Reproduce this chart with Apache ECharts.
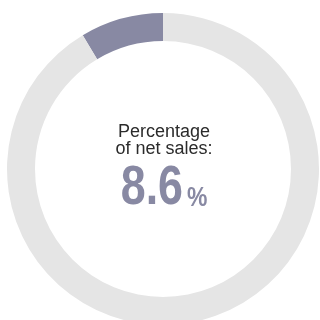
<!DOCTYPE html>
<html>
<head>
<meta charset="utf-8">
<script src="https://cdn.jsdelivr.net/npm/echarts@6/dist/echarts.min.js"></script>
<style>
  html, body { margin: 0; padding: 0; background: #fff; }
  #chart { width: 320px; height: 320px; }
</style>
</head>
<body>
<div id="chart"></div>
<script>
// share of net sales, rest of the ring
const names = ["Percentage of net sales", "Other"];
const values = [8.6, 91.4];
const colors = ["#8889a3", "#e5e5e5"];

const chart = echarts.init(document.getElementById("chart"));

const option = {
  animation: false,
  series: [
    {
      type: "pie",
      center: [163, 169],
      radius: [128, 156],
      startAngle: 90,
      clockwise: false,
      silent: true,
      label: { show: false },
      labelLine: { show: false },
      data: names.map((n, i) => ({
        name: n,
        value: values[i],
        itemStyle: { color: colors[i] },
      })),
    },
  ],
  graphic: [
    {
      type: "text",
      x: 164,
      y: 124,
      style: {
        text: "Percentage\nof net sales:",
        font: "18px 'Liberation Sans', Arial, sans-serif",
        fill: "#2b2b2b",
        align: "center",
        lineHeight: 17,
      },
    },
    {
      // big number, squeezed to look condensed
      type: "text",
      x: 183,
      y: 189,
      scaleX: 0.8,
      style: {
        text: String(values[0]),
        font: "bold 56px 'Liberation Sans', sans-serif",
        fill: colors[0],
        align: "right",
        verticalAlign: "middle",
      },
    },
    {
      type: "text",
      x: 187,
      y: 199,
      scaleX: 0.85,
      style: {
        text: "%",
        font: "bold 27px 'Liberation Sans', sans-serif",
        fill: colors[0],
        align: "left",
        verticalAlign: "middle",
      },
    },
  ],
};

chart.setOption(option);
</script>
</body>
</html>
